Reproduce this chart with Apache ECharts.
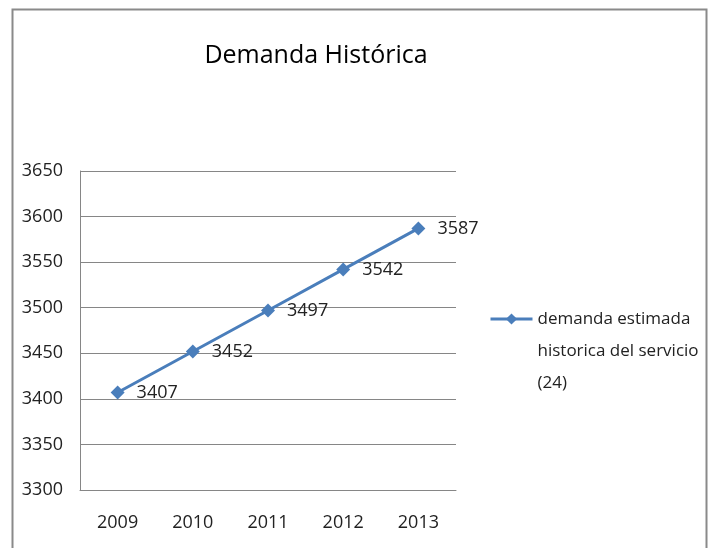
<!DOCTYPE html>
<html><head><meta charset="utf-8">
<script src="https://cdn.jsdelivr.net/npm/echarts@6/dist/echarts.min.js"></script>
<style>html,body{margin:0;padding:0;background:#fff}#c{width:710px;height:548px}</style>
</head><body><div id="c"></div>
<script>
const categories = ['2009', '2010', '2011', '2012', '2013'];
const demanda = [3407, 3452, 3497, 3542, 3587];
const seriesName = 'demanda estimada\nhistorica del servicio\n(24)';
const titleText = 'Demanda Histórica';
const yMin = 3300, yMax = 3650, yStep = 50;

const font = '"Open Sans", "Noto Sans", sans-serif';
const chart = echarts.init(document.getElementById('c'));
chart.setOption({
  animation: false,
  backgroundColor: '#fff',
  title: {
    text: titleText, left: 311, top: 38, textAlign: 'center',
    textStyle: { fontFamily: font, fontWeight: 'normal', fontSize: 25, color: '#000' }
  },
  graphic: [{
    type: 'rect', shape: { x: 12.5, y: 9.5, width: 694, height: 560 },
    style: { fill: 'none', stroke: '#8a8a8a', lineWidth: 2 }, silent: true
  }],
  legend: {
    orient: 'vertical', left: 484, top: 234,
    itemWidth: 42, itemHeight: 14, itemGap: 0,
    data: [seriesName],
    formatter: (n) => '\n\n' + n,
    lineStyle: { width: 3 },
    textStyle: { fontFamily: font, fontSize: 17, color: '#222', lineHeight: 32 }
  },
  grid: { left: 80, right: 254, top: 171, bottom: 58 },
  xAxis: {
    type: 'category', data: categories, boundaryGap: true,
    axisLine: { lineStyle: { color: '#868686', width: 1 } },
    axisTick: { show: false },
    axisLabel: { fontFamily: font, fontSize: 18, color: '#222', margin: 24 }
  },
  yAxis: {
    type: 'value', min: yMin, max: yMax, interval: yStep,
    axisLine: { show: true, lineStyle: { color: '#868686', width: 1 } },
    axisTick: { show: false },
    splitLine: { lineStyle: { color: '#868686', width: 1 } },
    axisLabel: { fontFamily: font, fontSize: 18, color: '#222', margin: 17, formatter: (v) => String(v) }
  },
  series: [{
    name: seriesName, type: 'line', data: demanda,
    lineStyle: { color: '#4a7ebb', width: 3 },
    itemStyle: { color: '#4a7ebb' },
    symbol: 'diamond', symbolSize: 14,
    label: { show: true, position: 'right', distance: 12, fontFamily: font, fontSize: 18, color: '#222' }
  }]
});
</script></body></html>
